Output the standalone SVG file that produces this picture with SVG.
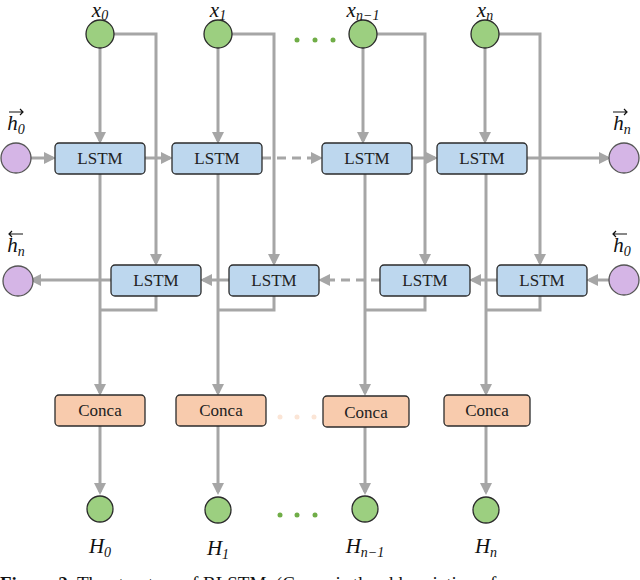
<svg xmlns="http://www.w3.org/2000/svg" width="640" height="580" viewBox="0 0 640 580">
<style>
.c{stroke:#a6a6a6;stroke-width:3;fill:none}
.d{stroke-dasharray:9,6}
.g{fill:#9ccf80;stroke:#2b2b2b;stroke-width:1.3}
.p{fill:#d5b5e6;stroke:#555;stroke-width:1.3}
.l{fill:#bdd7ee;stroke:#2b2b2b;stroke-width:1.3}
.o{fill:#f8cbad;stroke:#2b2b2b;stroke-width:1.3}
.t{font-family:"Liberation Serif","Times New Roman",serif;font-size:17px;text-anchor:middle;fill:#222}
.m{font-family:"Liberation Serif","Times New Roman",serif;font-style:italic;font-size:21px;text-anchor:middle;fill:#111}
.s{font-size:14px}
</style>
<defs><marker id="a" markerWidth="4" markerHeight="4" refX="3" refY="2" orient="auto" markerUnits="strokeWidth"><path d="M0,0L4,2L0,4z" fill="#a6a6a6"/></marker></defs>
<g id="connectors">
<path class="c" d="M100,48V141" marker-end="url(#a)"/>
<path class="c" d="M114,34H156V263" marker-end="url(#a)"/>
<path class="c" d="M218,48V141" marker-end="url(#a)"/>
<path class="c" d="M232,34H274V263" marker-end="url(#a)"/>
<path class="c" d="M363,48V141" marker-end="url(#a)"/>
<path class="c" d="M377,34H425V263" marker-end="url(#a)"/>
<path class="c" d="M485,48V141" marker-end="url(#a)"/>
<path class="c" d="M499,34H540V263" marker-end="url(#a)"/>
<path class="c" d="M30,158H53" marker-end="url(#a)"/>
<path class="c" d="M145,158H170" marker-end="url(#a)"/>
<path class="c d" d="M262,158H320" marker-end="url(#a)"/>
<path class="c" d="M412,158H435" marker-end="url(#a)"/>
<path class="c" d="M527,158H608" marker-end="url(#a)"/>
<path class="c" d="M610,280H589" marker-end="url(#a)"/>
<path class="c" d="M497,280H472" marker-end="url(#a)"/>
<path class="c d" d="M380,280H321" marker-end="url(#a)"/>
<path class="c" d="M229,280H203" marker-end="url(#a)"/>
<path class="c" d="M111,280H32" marker-end="url(#a)"/>
<path class="c" d="M100,173V393" marker-end="url(#a)"/>
<path class="c" d="M156,295V310H100"/>
<path class="c" d="M218,173V393" marker-end="url(#a)"/>
<path class="c" d="M274,295V310H218"/>
<path class="c" d="M365,173V393" marker-end="url(#a)"/>
<path class="c" d="M425,295V310H365"/>
<path class="c" d="M486,173V393" marker-end="url(#a)"/>
<path class="c" d="M540,295V310H486"/>
<path class="c" d="M100,425V492" marker-end="url(#a)"/>
<path class="c" d="M218,425V492" marker-end="url(#a)"/>
<path class="c" d="M365,425V492" marker-end="url(#a)"/>
<path class="c" d="M486,425V492" marker-end="url(#a)"/>
</g>
<g id="x0"><circle class="g" cx="100" cy="34" r="14"/><text class="m" x="100" y="17">x<tspan class="s" dy="3">0</tspan></text></g>
<g id="x1"><circle class="g" cx="218" cy="34" r="14"/><text class="m" x="218" y="17">x<tspan class="s" dy="3">1</tspan></text></g>
<g id="xn1"><circle class="g" cx="363" cy="34" r="14"/><text class="m" x="363" y="17">x<tspan class="s" dy="3">n−1</tspan></text></g>
<g id="xn"><circle class="g" cx="485" cy="34" r="14"/><text class="m" x="485" y="17">x<tspan class="s" dy="3">n</tspan></text></g>
<g id="dots"><circle cx="297" cy="40" r="2.5" fill="#70ad47"/><circle cx="315" cy="40" r="2.5" fill="#70ad47"/><circle cx="333" cy="40" r="2.5" fill="#70ad47"/>
<circle cx="280" cy="515" r="2.5" fill="#70ad47"/><circle cx="297" cy="515" r="2.5" fill="#70ad47"/><circle cx="315" cy="515" r="2.5" fill="#70ad47"/>
<circle cx="280" cy="417" r="2.5" fill="#fbe5d6"/><circle cx="297" cy="417" r="2.5" fill="#fbe5d6"/><circle cx="314" cy="417" r="2.5" fill="#fbe5d6"/></g>
<g id="hf0"><circle class="p" cx="16" cy="158" r="15"/><text class="m" x="16" y="130">h<tspan class="s" dy="4">0</tspan></text><path d="M9,112H23M20,109L23,112L20,115" stroke="#111" stroke-width="1.2" fill="none"/></g>
<g id="hbn"><circle class="p" cx="18" cy="281" r="15"/><text class="m" x="16" y="252">h<tspan class="s" dy="4">n</tspan></text><path d="M23,234H9M12,231L9,234L12,237" stroke="#111" stroke-width="1.2" fill="none"/></g>
<g id="hfn"><circle class="p" cx="624" cy="158" r="15"/><text class="m" x="622" y="130">h<tspan class="s" dy="4">n</tspan></text><path d="M613,112H627M624,109L627,112L624,115" stroke="#111" stroke-width="1.2" fill="none"/></g>
<g id="hb0"><circle class="p" cx="624" cy="280" r="15"/><text class="m" x="622" y="252">h<tspan class="s" dy="4">0</tspan></text><path d="M627,234H613M616,231L613,234L616,237" stroke="#111" stroke-width="1.2" fill="none"/></g>
<g id="f0"><rect class="l" x="55" y="143" width="90" height="31" rx="4"/><text class="t" x="100" y="164">LSTM</text></g>
<g id="f1"><rect class="l" x="172" y="143" width="90" height="31" rx="4"/><text class="t" x="217" y="164">LSTM</text></g>
<g id="f2"><rect class="l" x="322" y="143" width="90" height="31" rx="4"/><text class="t" x="367" y="164">LSTM</text></g>
<g id="f3"><rect class="l" x="437" y="143" width="90" height="31" rx="4"/><text class="t" x="482" y="164">LSTM</text></g>
<g id="b0"><rect class="l" x="111" y="265" width="90" height="31" rx="4"/><text class="t" x="156" y="286">LSTM</text></g>
<g id="b1"><rect class="l" x="229" y="265" width="90" height="31" rx="4"/><text class="t" x="274" y="286">LSTM</text></g>
<g id="b2"><rect class="l" x="380" y="265" width="90" height="31" rx="4"/><text class="t" x="425" y="286">LSTM</text></g>
<g id="b3"><rect class="l" x="497" y="265" width="90" height="31" rx="4"/><text class="t" x="542" y="286">LSTM</text></g>
<g id="c0"><rect class="o" x="55" y="395" width="90" height="31" rx="4"/><text class="t" x="100" y="416">Conca</text></g>
<g id="c1"><rect class="o" x="176" y="395" width="90" height="31" rx="4"/><text class="t" x="221" y="416">Conca</text></g>
<g id="c2"><rect class="o" x="323" y="396" width="86" height="31" rx="4"/><text class="t" x="366" y="418">Conca</text></g>
<g id="c3"><rect class="o" x="444" y="395" width="86" height="31" rx="4"/><text class="t" x="487" y="416">Conca</text></g>
<g id="H0"><circle class="g" cx="100" cy="509" r="13"/><text class="m" x="100" y="553">H<tspan class="s" dy="4">0</tspan></text></g>
<g id="H1"><circle class="g" cx="218" cy="510" r="13"/><text class="m" x="218" y="555">H<tspan class="s" dy="4">1</tspan></text></g>
<g id="Hn1"><circle class="g" cx="365" cy="509" r="13"/><text class="m" x="365" y="553">H<tspan class="s" dy="4">n−1</tspan></text></g>
<g id="Hn"><circle class="g" cx="486" cy="510" r="13"/><text class="m" x="486" y="553">H<tspan class="s" dy="4">n</tspan></text></g>
<text x="0" y="590" font-family="Liberation Serif,serif" font-size="19" fill="#111"><tspan font-weight="bold">Figure 2.</tspan> The structure of BLSTM. (Conca is the abbreviation of</text>
</svg>
